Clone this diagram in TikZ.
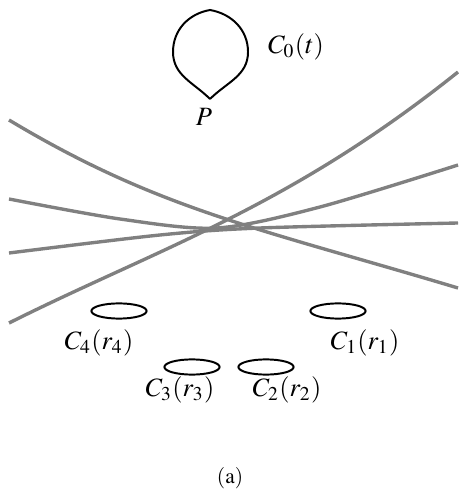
\documentclass[tikz,border=0pt]{standalone}
\usepackage{mathptmx}
\usepackage{fontspec}
\usetikzlibrary{shapes.geometric}
\definecolor{familygray}{HTML}{808080}
\tikzset{
  family/.style={draw=familygray, line width=1.2pt},
  loopline/.style={draw=black, line width=0.7pt},
  oval/.style={ellipse, draw=black, line width=0.7pt, minimum width=0.69cm, minimum height=0.19cm, inner sep=0pt},
  clabel/.style={inner sep=0pt, font=\fontsize{9.4}{11}\selectfont},
  caption/.style={inner sep=0pt, font=\fontsize{7.6}{9}\selectfont}
}

\begin{document}
\begin{tikzpicture}[x=0.0125cm,y=-0.0125cm]
  \useasboundingbox (0,0) rectangle (458,495);

  % the loop C_0(t) through P
  \coordinate (p) at (210,99);
  \draw[loopline] (p) to[out=135,in=-90] (173,52) to[out=90,in=190] (210,10)
    to[out=-10,in=90] (248,52) to[out=-90,in=45] (p);
  \node[clabel] (c0lab) at (296,47) {$C_0(t)$};
  \node[clabel] (plab) at (204,117) {$P$};

  % the family of curves
  \draw[family] (9,120) .. controls (159,210) and (258,228) .. (458,288);
  \draw[family] (9,323) .. controls (159,248) and (288,208) .. (458,72);
  \draw[family] plot[smooth] coordinates {(9,199) (120,219) (217,228) (320,207) (458,165)};
  \draw[family] plot[smooth] coordinates {(9,253) (160,235) (260,228) (458,223)};

  % the small ovals
  \node[oval] (c4) at (119,311) {};
  \node[oval] (c1) at (338,311) {};
  \node[oval] (c3) at (192,367) {};
  \node[oval] (c2) at (266,367) {};
  \node[clabel] (c4lab) at (99,343) {$C_4(r_4)$};
  \node[clabel] (c1lab) at (365,343) {$C_1(r_1)$};
  \node[clabel] (c3lab) at (180,390) {$C_3(r_3)$};
  \node[clabel] (c2lab) at (287,390) {$C_2(r_2)$};

  \node[caption] (cap) at (230,478) {$(\mathrm{a})$};
\end{tikzpicture}
\end{document}
